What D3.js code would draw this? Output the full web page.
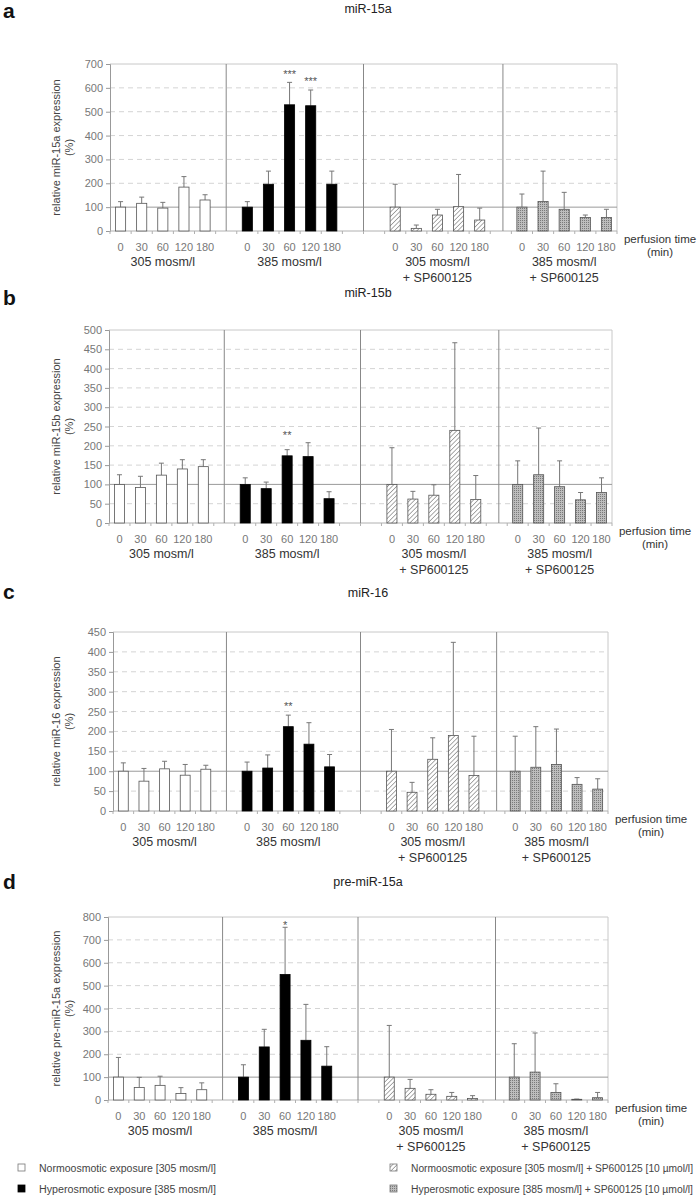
<!DOCTYPE html>
<html>
<head>
<meta charset="utf-8">
<script src="https://cdn.jsdelivr.net/npm/d3@7"></script>
<style>
  body { margin: 0; background: #fff; }
  svg { display: block; font-family: "Liberation Sans", Arial, Helvetica, sans-serif; }
</style>
</head>
<body>
<svg id="chart" width="700" height="1204"></svg>
<script>
// ---- data ----
var times = ["0", "30", "60", "120", "180"];
var groupLabels = [["305 mosm/l"], ["385 mosm/l"], ["305 mosm/l", "+ SP600125"], ["385 mosm/l", "+ SP600125"]];
var groupStart = [0, 6, 13, 19]; // slot where each group begins (24 slots on the axis)

// panel a: miR-15a
var a_mean = [[100, 116, 96, 184, 130], [100, 196, 529, 525, 196], [100, 11, 67, 102, 46], [100, 124, 91, 57, 57]];
var a_sd   = [[23, 26, 24, 44, 22], [23, 55, 94, 66, 55], [96, 14, 24, 135, 50], [55, 127, 71, 10, 34]];
// panel b: miR-15b
var b_mean = [[100, 92, 124, 140, 146], [100, 89, 174, 172, 63], [100, 62, 72, 240, 61], [100, 125, 94, 60, 79]];
var b_sd   = [[25, 29, 31, 24, 18], [17, 17, 16, 36, 18], [95, 20, 27, 227, 62], [61, 121, 67, 19, 38]];
// panel c: miR-16
var c_mean = [[100, 75, 106, 90, 105], [100, 108, 212, 168, 111], [100, 47, 130, 190, 89], [100, 110, 117, 67, 55]];
var c_sd   = [[21, 32, 19, 27, 10], [23, 33, 29, 54, 31], [105, 25, 54, 234, 99], [88, 102, 89, 17, 26]];
// panel d: pre-miR-15a
var d_mean = [[100, 55, 64, 28, 45], [100, 232, 549, 261, 148], [100, 51, 25, 16, 7], [100, 122, 33, 3, 10]];
var d_sd   = [[86, 44, 40, 26, 30], [54, 77, 206, 157, 85], [226, 39, 20, 17, 12], [146, 171, 38, 1, 23]];

// significance marks: [group, time index, label, height in %]
var a_stars = [[1, 2, "***", 666], [1, 3, "***", 637]];
var b_stars = [[1, 2, "**", 232]];
var c_stars = [[1, 2, "**", 268]];
var d_stars = [[1, 2, "*", 775]];

var legendItems = [
  "Normoosmotic exposure [305 mosm/l]",
  "Hyperosmotic exposure [385 mosm/l]",
  "Normoosmotic exposure [305 mosm/l] + SP600125 [10 \u00b5mol/l]",
  "Hyperosmotic exposure [385 mosm/l] + SP600125 [10 \u00b5mol/l]"
];

// ---- layout ----
var panels = [
  {letter: "a", title: "miR-15a", yLabel: "relative miR-15a expression", mean: a_mean, sd: a_sd, stars: a_stars,
   top: 64, bottom: 231, left: 110, right: 617, ymax: 700, tick: 100, letterY: 18, titleY: 13},
  {letter: "b", title: "miR-15b", yLabel: "relative miR-15b expression", mean: b_mean, sd: b_sd, stars: b_stars,
   top: 330, bottom: 523, left: 109, right: 612, ymax: 500, tick: 50, letterY: 305, titleY: 297},
  {letter: "c", title: "miR-16", yLabel: "relative miR-16 expression", mean: c_mean, sd: c_sd, stars: c_stars,
   top: 632, bottom: 811, left: 113, right: 608, ymax: 450, tick: 50, letterY: 599, titleY: 597},
  {letter: "d", title: "pre-miR-15a", yLabel: "relative pre-miR-15a expression", mean: d_mean, sd: d_sd, stars: d_stars,
   top: 917, bottom: 1100, left: 108, right: 608, ymax: 800, tick: 100, letterY: 889, titleY: 886}
];
var separators = [5.5, 12, 18.6]; // in slot units

var svg = d3.select("#chart");
var defs = svg.append("defs");

// hatch pattern
var hatch = defs.append("pattern").attr("id", "hatch").attr("patternUnits", "userSpaceOnUse")
  .attr("width", 3.2).attr("height", 3.2).attr("patternTransform", "rotate(45)");
hatch.append("rect").attr("width", 3.2).attr("height", 3.2).attr("fill", "#fff");
hatch.append("line").attr("x1", 0).attr("y1", 0).attr("x2", 0).attr("y2", 3.2)
  .attr("stroke", "#444").attr("stroke-width", 0.9);

// stipple pattern
var dots = defs.append("pattern").attr("id", "dots").attr("patternUnits", "userSpaceOnUse")
  .attr("width", 2).attr("height", 2);
dots.append("rect").attr("width", 2).attr("height", 2).attr("fill", "#bdbdbd");
dots.append("rect").attr("width", 1).attr("height", 1).attr("fill", "#7a7a7a");

var fills = ["#fff", "#000", "url(#hatch)", "url(#dots)"];

panels.forEach(function(p) {
  var g = svg.append("g");
  var slots = d3.range(24);
  var x = d3.scaleBand().domain(slots).range([p.left, p.right]).paddingInner(0.52).paddingOuter(0.26);
  var step = x.step();
  var y = d3.scaleLinear().domain([0, p.ymax]).range([p.bottom, p.top]);
  var ticks = d3.range(0, p.ymax + 1, p.tick);

  // letter + title
  svg.append("text").attr("x", 3).attr("y", p.letterY).attr("font-size", 21).attr("font-weight", "bold")
    .attr("fill", "#111").text(p.letter);
  svg.append("text").attr("x", 368).attr("y", p.titleY).attr("text-anchor", "middle")
    .attr("font-size", 12.5).attr("fill", "#222").text(p.title);

  // grid
  g.selectAll("line.grid").data(ticks.filter(function(t) { return t > 0 && t < p.ymax && t !== 100; }))
    .enter().append("line")
    .attr("x1", p.left).attr("x2", p.right).attr("y1", function(t) { return y(t); }).attr("y2", function(t) { return y(t); })
    .attr("stroke", "#d4d4d4").attr("stroke-dasharray", "5,4");
  g.append("line").attr("x1", p.left).attr("x2", p.right).attr("y1", y(p.ymax)).attr("y2", y(p.ymax))
    .attr("stroke", "#c8c8c8");
  g.append("line").attr("x1", p.right).attr("x2", p.right).attr("y1", y(p.ymax)).attr("y2", y(0))
    .attr("stroke", "#c8c8c8");
  g.append("line").attr("x1", p.left).attr("x2", p.right).attr("y1", y(100)).attr("y2", y(100))
    .attr("stroke", "#9a9a9a");

  // y axis
  var yAxis = d3.axisLeft(y).tickValues(ticks).tickSize(4).tickPadding(3);
  var ya = g.append("g").attr("transform", "translate(" + p.left + ",0)").call(yAxis);
  ya.select(".domain").attr("stroke", "#999");
  ya.selectAll(".tick line").attr("stroke", "#999");
  ya.selectAll(".tick text").attr("fill", "#777").attr("font-size", 11)
    .attr("font-family", "Liberation Sans, Arial, sans-serif");

  // x axis line + slot ticks
  g.append("line").attr("x1", p.left).attr("x2", p.right).attr("y1", p.bottom).attr("y2", p.bottom)
    .attr("stroke", "#b0b0b0");
  g.selectAll("line.xt").data(d3.range(25)).enter().append("line")
    .attr("x1", function(i) { return p.left + i * step; }).attr("x2", function(i) { return p.left + i * step; })
    .attr("y1", p.bottom).attr("y2", p.bottom + 3).attr("stroke", "#b0b0b0");

  // separators
  g.selectAll("line.sep").data(separators).enter().append("line")
    .attr("x1", function(s) { return p.left + s * step; }).attr("x2", function(s) { return p.left + s * step; })
    .attr("y1", p.top).attr("y2", p.bottom).attr("stroke", "#888");

  // bars
  var rows = [];
  p.mean.forEach(function(vals, gi) {
    vals.forEach(function(v, ti) {
      rows.push({g: gi, t: ti, v: v, sd: p.sd[gi][ti], slot: groupStart[gi] + ti});
    });
  });

  g.selectAll("line.err").data(rows).enter().append("path")
    .attr("d", function(d) {
      var cx = x(d.slot) + x.bandwidth() / 2, yt = y(d.v + d.sd);
      return "M" + cx + "," + y(d.v) + "V" + yt + "M" + (cx - 2.5) + "," + yt + "H" + (cx + 2.5);
    })
    .attr("fill", "none").attr("stroke", "#777").attr("stroke-width", 1);

  g.selectAll("rect.bar").data(rows).enter().append("rect")
    .attr("x", function(d) { return x(d.slot); })
    .attr("y", function(d) { return y(d.v); })
    .attr("width", x.bandwidth())
    .attr("height", function(d) { return y(0) - y(d.v); })
    .attr("fill", function(d) { return fills[d.g]; })
    .attr("stroke", function(d) { return d.g === 1 ? "#000" : "#555"; })
    .attr("stroke-width", 0.8);

  // time labels
  g.selectAll("text.tl").data(rows).enter().append("text")
    .attr("x", function(d) { return x(d.slot) + x.bandwidth() / 2; })
    .attr("y", p.bottom + 20).attr("text-anchor", "middle")
    .attr("font-size", 11).attr("fill", "#777").text(function(d) { return times[d.t]; });

  // group labels
  groupLabels.forEach(function(lines, gi) {
    var cx = x(groupStart[gi] + 2) + x.bandwidth() / 2;
    lines.forEach(function(s, li) {
      g.append("text").attr("x", cx).attr("y", p.bottom + 35 + li * 16).attr("text-anchor", "middle")
        .attr("font-size", 12.5).attr("fill", "#333").text(s);
    });
  });

  // perfusion time
  g.append("text").attr("x", p.right + 43).attr("y", p.bottom + 12).attr("text-anchor", "middle")
    .attr("font-size", 11.5).attr("fill", "#333").text("perfusion time");
  g.append("text").attr("x", p.right + 43).attr("y", p.bottom + 25).attr("text-anchor", "middle")
    .attr("font-size", 11.5).attr("fill", "#333").text("(min)");

  // y label
  var my = (p.top + p.bottom) / 2;
  g.append("text").attr("transform", "translate(60," + my + ") rotate(-90)").attr("text-anchor", "middle")
    .attr("font-size", 11).attr("fill", "#444").text(p.yLabel);
  g.append("text").attr("transform", "translate(73," + my + ") rotate(-90)").attr("text-anchor", "middle")
    .attr("font-size", 11).attr("fill", "#444").text("(%)");

  // stars
  p.stars.forEach(function(s) {
    var cx = x(groupStart[s[0]] + s[1]) + x.bandwidth() / 2;
    g.append("text").attr("x", cx).attr("y", y(s[3]) + 6).attr("text-anchor", "middle")
      .attr("font-size", 11).attr("fill", "#555").text(s[2]);
  });
});

// legend
var legendPos = [[18, 1168], [18, 1189], [390, 1168], [390, 1189]];
var legendLen = [177, 177, 282, 282];
var lg = svg.append("g");
legendItems.forEach(function(t, i) {
  var px = legendPos[i][0], py = legendPos[i][1];
  lg.append("rect").attr("x", px).attr("y", py - 4).attr("width", 7).attr("height", 7)
    .attr("fill", fills[i]).attr("stroke", i === 1 ? "#000" : "#777").attr("stroke-width", 0.8);
  lg.append("text").attr("x", px + 21).attr("y", py + 3.5).attr("font-size", 10).attr("fill", "#444")
    .attr("textLength", legendLen[i]).attr("lengthAdjust", "spacingAndGlyphs").text(t);
});
</script>
</body>
</html>
